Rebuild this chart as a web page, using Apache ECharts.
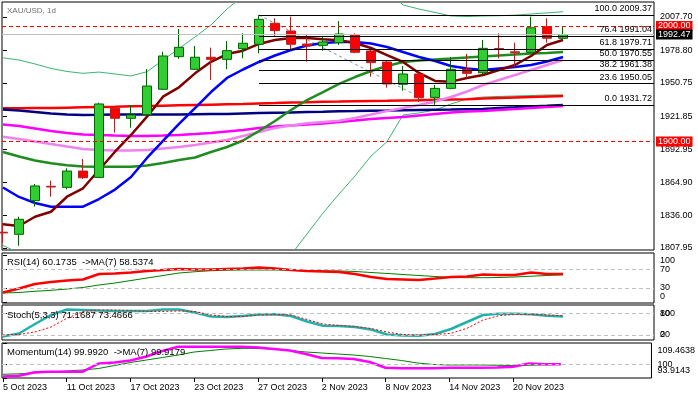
<!DOCTYPE html>
<html>
<head>
<meta charset="utf-8">
<script src="https://cdn.jsdelivr.net/npm/echarts@6/dist/echarts.min.js"></script>
<style>
html,body{margin:0;padding:0;background:#fff;}
#chart{width:698px;height:397px;}
</style>
</head>
<body>
<div id="chart"></div>
<script>
// daily bars, 5 Oct - 23 Nov 2023
var dates = ['5 Oct 2023','6 Oct 2023','9 Oct 2023','10 Oct 2023','11 Oct 2023','12 Oct 2023','13 Oct 2023',
	'16 Oct 2023','17 Oct 2023','18 Oct 2023','19 Oct 2023','20 Oct 2023','23 Oct 2023','24 Oct 2023',
	'25 Oct 2023','26 Oct 2023','27 Oct 2023','30 Oct 2023','31 Oct 2023','1 Nov 2023','2 Nov 2023',
	'3 Nov 2023','6 Nov 2023','7 Nov 2023','8 Nov 2023','9 Nov 2023','10 Nov 2023','13 Nov 2023',
	'14 Nov 2023','15 Nov 2023','16 Nov 2023','17 Nov 2023','20 Nov 2023','21 Nov 2023','22 Nov 2023','23 Nov 2023'];
var labelIdx = [0,4,8,12,16,20,24,28,32];

var openP  = [1821.6,1819.8,1848.9,1861.3,1860.4,1874.5,1869.0,1928.8,1920.1,1923.2,1945.2,1973.4,1962.5,1972.9,1971.1,1980.3,1984.1,2002.3,1995.6,1984.3,1983.2,1985.5,1992.1,1978.3,1968.8,1949.5,1958.4,1938.2,1946.0,1962.5,1959.5,1980.5,1977.6,1977.2,1999.3,1989.3];
var closeP = [1821.0,1832.8,1861.6,1860.7,1874.5,1868.7,1932.5,1920.1,1923.0,1948.0,1974.0,1981.5,1972.9,1971.1,1978.6,1985.0,2005.7,1995.9,1984.1,1982.6,1986.1,1993.0,1977.2,1968.2,1949.8,1958.4,1937.9,1946.0,1962.5,1959.0,1980.6,1979.7,1976.8,1998.4,1989.3,1992.47];
var lowP   = [1812.3,1809.9,1843.7,1852.3,1858.7,1867.6,1868.6,1907.7,1912.0,1922.5,1944.6,1971.4,1961.9,1953.2,1962.5,1972.0,1976.3,1991.3,1979.2,1969.1,1978.6,1983.5,1976.3,1956.1,1946.6,1944.0,1934.2,1931.72,1945.2,1955.2,1958.3,1972.0,1964.7,1976.3,1985.5,1988.2];
var highP  = [1829.6,1835.0,1863.3,1866.2,1876.9,1884.9,1933.6,1930.1,1931.6,1962.7,1977.7,1997.3,1982.6,1981.2,1986.9,1993.6,2009.37,2006.6,2008.0,1992.1,1991.3,2004.2,1993.6,1979.2,1970.5,1965.3,1959.5,1948.9,1972.9,1975.7,1987.8,1993.6,1985.5,2008.0,2006.6,1999.3];

// moving averages on price
var maMaroon = [1828.4,1827.0,1835.0,1839.3,1852.3,1859.6,1875.4,1891.2,1905.7,1921.5,1938.8,1946.9,1959.0,1969.0,1975.7,1978.6,1984.4,1987.8,1989.5,1989.5,1988.4,1987.6,1985.2,1980.9,1974.8,1968.8,1959.3,1952.4,1951.8,1955.0,1957.5,1961.9,1966.2,1974.0,1983.5,1987.8];
var maBlue   = [1860.3,1852.1,1846.9,1843.7,1843.7,1843.7,1850.3,1858.5,1869.3,1885.8,1900.5,1915.2,1929.0,1942.8,1955.0,1962.3,1968.8,1974.4,1979.2,1983.1,1985.2,1986.1,1986.1,1984.8,1981.8,1977.4,1973.1,1969.7,1965.3,1963.2,1961.9,1963.2,1964.5,1966.2,1969.2,1973.1];
var bbMid    = [1891.0,1887.1,1883.6,1881.2,1879.5,1878.4,1878.3,1878.3,1878.3,1879.3,1881.5,1884.0,1886.2,1891.0,1895.3,1900.9,1909.1,1917.8,1927.3,1935.9,1942.8,1949.8,1955.8,1961.0,1965.3,1968.8,1970.1,1971.0,1971.8,1972.7,1973.5,1974.4,1975.3,1976.1,1976.6,1977.4];
var bbUpper  = [1972.4,1970.5,1967.1,1963.2,1960.6,1959.0,1960.1,1958.4,1956.7,1960.4,1970.5,1980.5,1990.4,2000.8,2014.6,2026,2038,2046,2052,2050,2047,2045,2041,2035,2031,2018.1,2014.6,2011.6,2008.6,2008.1,2008.6,2008.8,2009.3,2010.3,2011.2,2012.3];
var bbLower  = [1810.1,1803.7,1800.1,1799.2,1798.4,1797.8,1796.5,1798.2,1799.9,1798.2,1792.5,1787.5,1782.0,1781.2,1776.0,1775.8,1778.2,1785.6,1802.0,1820.1,1838.2,1854.6,1870.2,1887.5,1899.9,1923.0,1924.7,1927.3,1932.5,1936.8,1938.5,1939.0,1939.4,1939.8,1940.3,1940.3];
var maViolet = [1904.2,1902.2,1900.0,1897.9,1895.7,1893.6,1892.7,1892.3,1892.3,1892.7,1894.0,1895.3,1897.0,1899.2,1901.3,1904.8,1908.3,1911.7,1913.9,1915.8,1916.9,1918.0,1920.4,1923.4,1926.4,1929.0,1931.6,1934.6,1938.5,1943.3,1948.9,1953.2,1957.5,1961.9,1966.2,1970.5];
var maMagenta= [1914.7,1913.4,1911.3,1909.1,1907.4,1906.1,1905.7,1905.2,1904.8,1904.8,1905.2,1905.7,1906.5,1907.4,1908.7,1910.0,1911.7,1913.0,1913.9,1914.7,1915.6,1916.9,1918.2,1919.5,1920.4,1921.2,1922.5,1923.8,1925.1,1926.0,1926.4,1927.3,1928.1,1929.0,1929.9,1930.7];
var maNavy   = [1927.7,1926.8,1925.6,1924.3,1923.4,1923.0,1923.1,1923.4,1923.4,1923.4,1923.4,1923.4,1923.6,1923.8,1923.8,1924.3,1924.7,1924.9,1925.1,1925.6,1925.8,1926.2,1926.4,1926.7,1926.8,1927.1,1927.3,1927.5,1927.7,1928.0,1928.1,1929.0,1929.6,1930.3,1930.9,1931.6];
var maRed    = [1928.8,1928.9,1929.0,1929.0,1929.3,1929.6,1929.9,1930.1,1930.5,1930.7,1931.0,1931.3,1931.6,1931.9,1932.2,1932.5,1932.9,1933.3,1933.8,1934.0,1934.4,1934.6,1934.9,1935.1,1935.3,1935.6,1935.8,1936.1,1936.4,1936.5,1937.2,1937.7,1938.1,1938.5,1939.0,1939.4];

// fibonacci retracement (27 Oct high -> 13 Nov low)
var fibFrom = [16, 2009.37];
var fibTo = [27, 1931.72];
var fibPct = [100.0, 76.4, 61.8, 50.0, 38.2, 23.6, 0.0];
var fibPrice = [2009.37, 1991.04, 1979.71, 1970.55, 1961.38, 1950.05, 1931.72];
var priceTicks = [2007.70, 1978.80, 1950.75, 1921.85, 1892.95, 1864.90, 1836.00, 1807.95];
var bidPrice = 1992.47;
var alertLevels = [2000.00, 1900.00];

// indicators
var rsi   = [20.3,28.9,38.6,43.0,46.2,48.4,60.3,61.4,63.5,66.8,68.9,71.1,70.0,70.0,71.0,72.0,74.3,72.0,69.0,66.8,65.7,64.6,60.3,53.8,49.5,48.4,47.3,50.5,53.8,54.9,59.2,58.1,58.1,63.5,60.3,60.17];
var rsiMa = [19.2,20.3,22.9,25.0,27.8,31.1,36.5,40.8,46.2,51.6,57.0,62.4,65.2,67.4,68.5,68.9,68.9,68.9,68.5,67.8,67.2,66.8,65.7,63.5,61.4,59.2,57.0,54.9,52.7,52.3,52.3,52.7,53.8,55.5,57.0,58.54];
var stochK = [15.9,24.2,50.4,75.3,90.5,89.1,87.7,86.4,86.4,86.4,90.5,90.5,82.2,71.2,69.8,72.5,76.7,77.2,72.5,57.3,45.7,44.9,42.1,35.2,21.4,18.6,18.1,22.8,36.6,55.9,75.3,78.9,78.6,77.2,73.5,71.17];
var stochD = [20.0,21.4,28.3,42.1,66.2,85.0,89.1,89.1,87.7,85.0,85.0,86.4,85.0,75.3,71.2,71.2,75.3,76.7,75.3,62.9,50.4,46.3,43.5,38.0,28.3,21.4,20.0,21.4,24.7,38.5,61.5,73.4,76.7,77.2,75.3,73.47];
var mom   = [94.58,94.94,96.45,96.71,96.71,96.71,100.36,100.80,101.69,103.47,105.91,107.82,107.82,107.82,107.82,107.82,107.46,106.80,106.13,104.58,102.80,102.67,102.36,101.02,98.49,98.22,98.22,98.22,98.49,98.49,98.49,98.58,98.94,100.36,100.00,99.99];
var momMa = [95.56,95.78,96.14,96.58,97.02,97.47,98.14,99.47,100.80,101.91,103.02,104.13,105.47,106.13,106.80,107.11,107.02,106.80,106.13,105.47,105.02,104.58,104.13,103.47,102.58,101.69,100.58,99.91,99.69,99.69,99.69,99.56,99.47,99.56,99.78,99.92];
var momMax = 109.4638, momMin = 93.9143;

var FONT = 'Liberation Sans';
var X_MIN = -0.0625, X_MAX = 40.6875;

function pairs(arr){
	var out = [];
	for (var i = 0; i < arr.length; i++) out.push([i, arr[i]]);
	return out;
}
function lineSeries(name, arr, color, width, xi, yi, extra){
	var s = {
		name: name, type: 'line', data: pairs(arr), xAxisIndex: xi, yAxisIndex: yi,
		symbol: 'none', smooth: false, animation: false, silent: true, z: 2,
		lineStyle: {color: color, width: width}
	};
	if (extra) for (var k in extra) s[k] = extra[k];
	return s;
}
function dashLines(vals){
	return {
		symbol: 'none', silent: true, animation: false,
		label: {show: false},
		lineStyle: {color: '#c0c0c0', type: [4, 3], width: 1},
		data: vals.map(function(v){ return {yAxis: v}; })
	};
}
function priceBox(v, bg){
	return {
		yAxis: v,
		lineStyle: {color: bg === '#000000' ? '#c0c0c0' : bg, type: bg === '#000000' ? 'solid' : [4, 3], width: 1},
		label: {show: true, position: 'end', distance: 2, formatter: v.toFixed(2),
			backgroundColor: bg, color: '#fff', padding: [1, 2, 0, 2], fontSize: 9, fontFamily: FONT}
	};
}

var candles = [];
for (var i = 0; i < dates.length; i++) candles.push([i, openP[i], closeP[i], lowP[i], highP[i]]);

var fibData = [];
for (var f = 0; f < fibPct.length; f++) {
	fibData.push([
		{name: fibPct[f].toFixed(1) + ' ' + fibPrice[f].toFixed(2), coord: [fibFrom[0], fibPrice[f]]},
		{coord: [X_MAX, fibPrice[f]]}
	]);
}

var grids = [
	{left: 2, top: 2, width: 652, height: 248},
	{left: 2, top: 253, width: 652, height: 50},
	{left: 2, top: 305, width: 652, height: 35},
	{left: 2, top: 343, width: 652, height: 35}
];
grids.forEach(function(g){ g.show = true; g.borderColor = '#000'; g.borderWidth = 1; g.backgroundColor = 'transparent'; });

function xAxisFor(idx){
	var ax = {type: 'value', gridIndex: idx, min: X_MIN, max: X_MAX, splitLine: {show: false},
		axisLine: {show: false}, axisTick: {show: false}, axisLabel: {show: false}};
	if (idx === 3) {
		ax.axisTick = {show: true, length: 4, customValues: labelIdx, lineStyle: {color: '#000'}};
		ax.axisLabel = {show: true, customValues: labelIdx, align: 'left', margin: 5, fontSize: 9,
			fontFamily: FONT, color: '#000', formatter: function(v){ return dates[Math.round(v)]; }};
	}
	return ax;
}
// right-hand value axis; tickVals get tick marks, labelVals get text
function yAxisFor(idx, min, max, tickVals, labelVals, fmt, vAlign, pad){
	return {
		type: 'value', gridIndex: idx, position: 'right', min: min, max: max,
		splitLine: {show: false}, axisLine: {show: false},
		axisTick: {show: tickVals.length > 0, length: 4, customValues: tickVals.length ? tickVals : labelVals, lineStyle: {color: '#000'}},
		axisLabel: {show: true, customValues: labelVals, margin: 6, fontSize: 9, fontFamily: FONT,
			color: '#000', formatter: fmt, verticalAlign: vAlign || 'middle', padding: pad || 0}
	};
}
function plain(v){ return String(v); }

var myChart = echarts.init(document.getElementById('chart'));
var option = {
	animation: false,
	backgroundColor: '#fff',
	textStyle: {fontFamily: FONT},
	title: [
		{text: 'XAU/USD, 1d', left: 7, top: 7, padding: 0, textStyle: {fontSize: 8, color: '#707070', fontWeight: 'normal', fontFamily: FONT}},
		{text: 'RSI(14) 60.1735  ->MA(7) 58.5374', left: 7, top: 257, padding: 0, textStyle: {fontSize: 9.5, color: '#000', fontWeight: 'normal', fontFamily: FONT}},
		{text: 'Stoch(5,3,3) 71.1687 73.4666', left: 7, top: 310, padding: 0, textStyle: {fontSize: 9.5, color: '#000', fontWeight: 'normal', fontFamily: FONT}},
		{text: 'Momentum(14) 99.9920  ->MA(7) 99.9179', left: 7, top: 347, padding: 0, textStyle: {fontSize: 9.5, color: '#000', fontWeight: 'normal', fontFamily: FONT}}
	],
	grid: grids,
	xAxis: [xAxisFor(0), xAxisFor(1), xAxisFor(2), xAxisFor(3)],
	yAxis: [
		// 0: price
		yAxisFor(0, 1806.23, 2020.67, priceTicks, priceTicks, function(v){ return v.toFixed(2); }),
		// 1-3: RSI
		yAxisFor(1, -2.43, 105.68, [100, 70, 30, 0], [70, 30], plain),
		yAxisFor(1, -2.43, 105.68, [], [100], plain, 'top'),
		yAxisFor(1, -2.43, 105.68, [], [0], plain, 'bottom', [0, 0, 1, 0]),
		// 4-5: Stoch (MT4 prints 100/0 over 80/20)
		yAxisFor(2, 6.18, 102.95, [80, 20], [80, 20], plain),
		yAxisFor(2, 6.18, 102.95, [], [80, 20], function(v){ return v === 80 ? '100' : '0'; }),
		// 6-8: Momentum
		yAxisFor(3, momMin, momMax, [momMax, 100, momMin], [100], plain),
		yAxisFor(3, momMin, momMax, [], [momMax], function(v){ return momMax.toFixed(4); }, 'top', [3, 0, 0, 0]),
		yAxisFor(3, momMin, momMax, [], [momMin], function(v){ return momMin.toFixed(4); }, 'bottom', [0, 0, 3, 0])
	],
	series: [
		{
			name: 'XAUUSD', type: 'candlestick', xAxisIndex: 0, yAxisIndex: 0,
			data: candles, encode: {x: 0, y: [1, 2, 3, 4]}, barWidth: 10, z: 4, silent: true,
			itemStyle: {color: '#32CD32', color0: '#FF0000', borderColor: '#006400', borderColor0: '#B22222', borderWidth: 1},
			markLine: {
				symbol: 'none', silent: true, animation: false,
				data: [priceBox(alertLevels[0], '#ff0000'), priceBox(bidPrice, '#000000'), priceBox(alertLevels[1], '#ff0000')]
			}
		},
		{
			name: 'fib', type: 'line', xAxisIndex: 0, yAxisIndex: 0, data: [fibFrom, fibTo],
			symbol: 'none', silent: true, z: 1,
			lineStyle: {color: '#7f8fa6', type: [3, 3], width: 1},
			markLine: {
				symbol: 'none', silent: true, animation: false,
				lineStyle: {color: '#000', type: 'solid', width: 1},
				label: {show: true, position: 'insideEndTop', distance: 2, formatter: '{b}',
					fontSize: 9, fontFamily: FONT, color: '#000'},
				data: fibData
			}
		},
		lineSeries('bbUpper', bbUpper, '#3CB371', 1, 0, 0),
		lineSeries('bbLower', bbLower, '#3CB371', 1, 0, 0),
		lineSeries('red', maRed, '#FF0000', 2.5, 0, 0),
		lineSeries('navy', maNavy, '#000080', 2.5, 0, 0),
		lineSeries('magenta', maMagenta, '#FF00FF', 2.5, 0, 0),
		lineSeries('violet', maViolet, '#EE82EE', 2.5, 0, 0),
		lineSeries('bbMid', bbMid, '#1E8C1E', 2.5, 0, 0),
		lineSeries('blue', maBlue, '#0000FF', 2.5, 0, 0),
		lineSeries('maroon', maMaroon, '#800000', 2.5, 0, 0),

		lineSeries('rsiMa', rsiMa, '#008000', 1, 1, 1, {markLine: dashLines([70, 30])}),
		lineSeries('rsi', rsi, '#FF0000', 2.5, 1, 1),

		lineSeries('stochK', stochK, '#20B2AA', 2.5, 2, 4, {markLine: dashLines([80, 20])}),
		lineSeries('stochD', stochD, '#FF0000', 1, 2, 4, {lineStyle: {color: '#FF0000', width: 1, type: [2, 2]}}),

		lineSeries('momMa', momMa, '#008000', 1, 3, 6, {markLine: dashLines([100])}),
		lineSeries('mom', mom, '#FF00FF', 2.5, 3, 6)
	]
};
myChart.setOption(option);
</script>
</body>
</html>
